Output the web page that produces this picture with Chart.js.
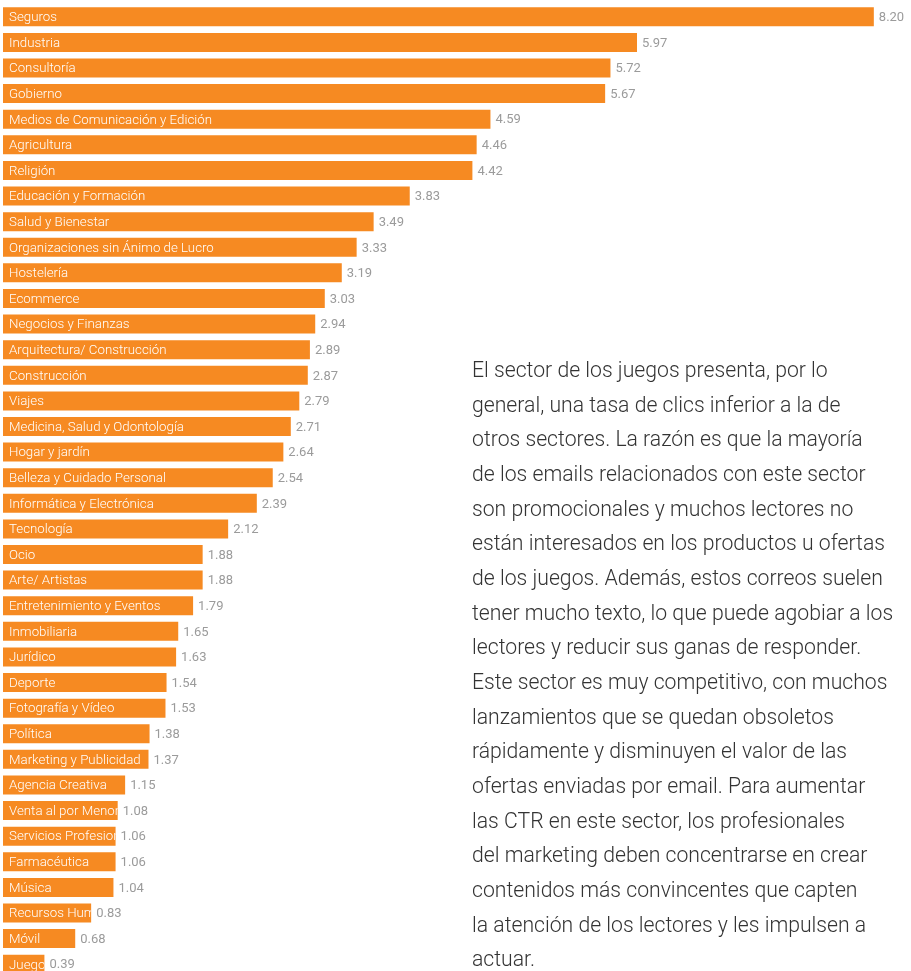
<!DOCTYPE html>
<html lang="es">
<head>
<meta charset="utf-8">
<title>Tasa de clics por sector</title>
<script src="https://cdn.jsdelivr.net/npm/chart.js@4/dist/chart.umd.min.js"></script>
<style>
  html, body { margin: 0; padding: 0; background: #fff; overflow: hidden; }
  #wrap { position: relative; width: 911px; height: 971px; }
  #chartBox { position: absolute; left: 0; top: 0; width: 911px; height: 977px; }
  #nota {
    position: absolute; left: 472px; top: 353px;
    font-family: Roboto, "Noto Sans", sans-serif; font-weight: 300;
    font-size: 21.2px; line-height: 34.65px; color: #333;
    white-space: nowrap;
  }
</style>
</head>
<body>
<div id="wrap">
  <div id="chartBox"><canvas id="ctr"></canvas></div>
  <div id="nota">
    El sector de los juegos presenta, por lo<br>
    general, una tasa de clics inferior a la de<br>
    otros sectores. La razón es que la mayoría<br>
    de los emails relacionados con este sector<br>
    son promocionales y muchos lectores no<br>
    están interesados en los productos u ofertas<br>
    de los juegos. Además, estos correos suelen<br>
    tener mucho texto, lo que puede agobiar a los<br>
    lectores y reducir sus ganas de responder.<br>
    Este sector es muy competitivo, con muchos<br>
    lanzamientos que se quedan obsoletos<br>
    rápidamente y disminuyen el valor de las<br>
    ofertas enviadas por email. Para aumentar<br>
    las CTR en este sector, los profesionales<br>
    del marketing deben concentrarse en crear<br>
    contenidos más convincentes que capten<br>
    la atención de los lectores y les impulsen a<br>
    actuar.
  </div>
</div>
<script>
const sectores = [
  "Seguros", "Industria", "Consultoría", "Gobierno",
  "Medios de Comunicación y Edición", "Agricultura", "Religión",
  "Educación y Formación", "Salud y Bienestar",
  "Organizaciones sin Ánimo de Lucro", "Hostelería", "Ecommerce",
  "Negocios y Finanzas", "Arquitectura/ Construcción", "Construcción",
  "Viajes", "Medicina, Salud y Odontología", "Hogar y jardín",
  "Belleza y Cuidado Personal", "Informática y Electrónica", "Tecnología",
  "Ocio", "Arte/ Artistas", "Entretenimiento y Eventos", "Inmobiliaria",
  "Jurídico", "Deporte", "Fotografía y Vídeo", "Política",
  "Marketing y Publicidad", "Agencia Creativa", "Venta al por Menor",
  "Servicios Profesionales", "Farmacéutica", "Música",
  "Recursos Humanos", "Móvil", "Juego"
];

const ctr = [
  8.20, 5.97, 5.72, 5.67, 4.59, 4.46, 4.42, 3.83, 3.49, 3.33,
  3.19, 3.03, 2.94, 2.89, 2.87, 2.79, 2.71, 2.64, 2.54, 2.39,
  2.12, 1.88, 1.88, 1.79, 1.65, 1.63, 1.54, 1.53, 1.38, 1.37,
  1.15, 1.08, 1.06, 1.06, 1.04, 0.83, 0.68, 0.39
];

const NARANJA = "#F68A22";
const FUENTE = "Roboto, 'Noto Sans', sans-serif";

// Writes the sector name inside each bar (clipped to the bar) and the value after it.
const etiquetas = {
  id: "etiquetas",
  afterDatasetsDraw(chart) {
    const { ctx } = chart;
    const meta = chart.getDatasetMeta(0);
    ctx.save();
    ctx.textBaseline = "middle";
    meta.data.forEach((bar, i) => {
      const { x, y, base, height } = bar.getProps(["x", "y", "base", "height"], true);
      ctx.save();
      ctx.beginPath();
      ctx.rect(base, y - height / 2, x - base, height);
      ctx.clip();
      ctx.font = "300 13.3px " + FUENTE;
      ctx.fillStyle = "#ffffff";
      ctx.textAlign = "left";
      ctx.fillText(chart.data.labels[i], base + 6, y + 1);
      ctx.restore();

      ctx.font = "400 13px " + FUENTE;
      ctx.fillStyle = "#9b9b9b";
      ctx.fillText(ctr[i].toFixed(2), x + 5, y + 1);
    });
    ctx.restore();
  }
};

new Chart(document.getElementById("ctr"), {
  type: "bar",
  data: {
    labels: sectores,
    datasets: [{
      data: ctr,
      backgroundColor: NARANJA,
      borderWidth: 0,
      barPercentage: 1,
      categoryPercentage: 0.742
    }]
  },
  options: {
    indexAxis: "y",
    responsive: true,
    maintainAspectRatio: false,
    animation: false,
    layout: { padding: { left: 3, right: 0, top: 4, bottom: 0 } },
    plugins: { legend: { display: false }, tooltip: { enabled: false } },
    scales: {
      x: { display: false, min: 0, max: 8.55 },
      y: { display: false }
    }
  },
  plugins: [etiquetas]
});
</script>
</body>
</html>
